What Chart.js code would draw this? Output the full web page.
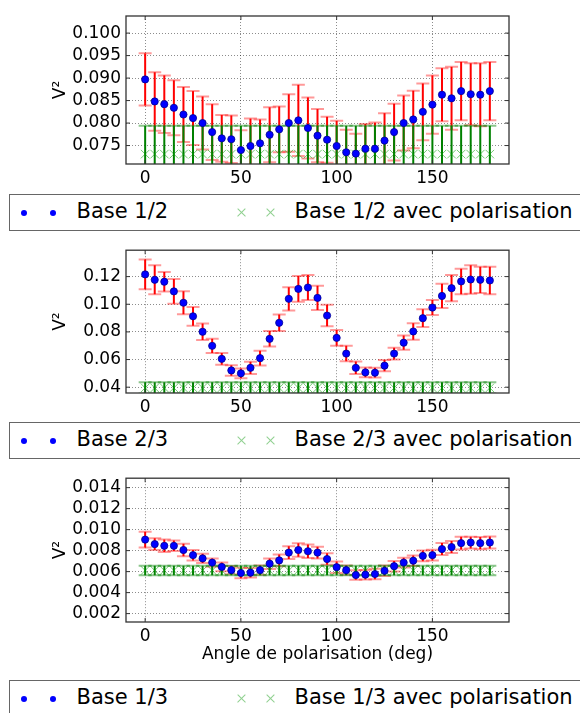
<!DOCTYPE html>
<html>
<head>
<meta charset="utf-8">
<script src="https://cdn.jsdelivr.net/npm/chart.js@4.4.1/dist/chart.umd.min.js"></script>
<style>
  body { margin: 0; background: #fff; width: 580px; height: 713px; overflow: hidden; position: relative; font-family: "DejaVu Sans"; }
  canvas { position: absolute; left: 0; }
  .legend { position: absolute; left: 9px; width: 620px; height: 37px; border: 1.5px solid #666; box-sizing: border-box; background: #fff; }
  .legend .dot { position: absolute; width: 6px; height: 6px; border-radius: 50%; background: #0000ff; }
  .legend .cross { position: absolute; width: 11px; height: 1.2px; background: #8fd08f; }
  .legend .lbl { position: absolute; font-size: 21px; line-height: 21px; color: #000; white-space: nowrap; }
</style>
</head>
<body>
<canvas id="p12" width="580" height="190" style="top:0px"></canvas>
<canvas id="p23" width="580" height="185" style="top:235px"></canvas>
<canvas id="p13" width="580" height="210" style="top:463px"></canvas>
<div id="legends"></div>
<script>
// polarisation angles (deg)
const angles = [0, 5, 10, 15, 20, 25, 30, 35, 40, 45, 50, 55, 60, 65, 70, 75, 80, 85, 90,
  95, 100, 105, 110, 115, 120, 125, 130, 135, 140, 145, 150, 155, 160, 165, 170, 175, 180];
const xTicks = [0, 50, 100, 150];

// Base 1/2
const v12 = [0.0897, 0.0848, 0.0842, 0.0834, 0.0819, 0.0811, 0.0800, 0.0780, 0.0766, 0.0764,
  0.0740, 0.0749, 0.0755, 0.0774, 0.0786, 0.0800, 0.0806, 0.0789, 0.0772, 0.0763, 0.0749,
  0.0735, 0.0732, 0.0743, 0.0743, 0.0761, 0.0780, 0.0800, 0.0808, 0.0825, 0.0841, 0.0863,
  0.0855, 0.0871, 0.0864, 0.0863, 0.0871];
const e12 = [0.0058, 0.0065, 0.0064, 0.0061, 0.0061, 0.0060, 0.0059, 0.0062, 0.0052, 0.0053,
  0.0044, 0.0061, 0.0053, 0.0061, 0.0051, 0.0064, 0.0079, 0.0068, 0.0059, 0.0051, 0.0056,
  0.0050, 0.0044, 0.0055, 0.0058, 0.0061, 0.0063, 0.0061, 0.0064, 0.0063, 0.0065, 0.0059,
  0.0070, 0.0065, 0.0069, 0.0070, 0.0065];
const g12 = [0.0731, 0.0731, 0.0731, 0.0731, 0.0731, 0.0731, 0.0731, 0.0731, 0.0731, 0.0731,
  0.0731, 0.0731, 0.0731, 0.0731, 0.0731, 0.0731, 0.0731, 0.0731, 0.0731, 0.0731, 0.0731,
  0.0731, 0.0731, 0.0731, 0.0731, 0.0731, 0.0731, 0.0731, 0.0731, 0.0731, 0.0731, 0.0731,
  0.0731, 0.0731, 0.0731, 0.0731, 0.0731];
const ge12 = [0.0063, 0.0063, 0.0063, 0.0063, 0.0063, 0.0063, 0.0063, 0.0063, 0.0063, 0.0063,
  0.0063, 0.0063, 0.0063, 0.0063, 0.0063, 0.0063, 0.0063, 0.0063, 0.0063, 0.0063, 0.0063,
  0.0063, 0.0063, 0.0063, 0.0063, 0.0063, 0.0063, 0.0063, 0.0063, 0.0063, 0.0063, 0.0063,
  0.0063, 0.0063, 0.0063, 0.0063, 0.0063];
const yTicks12 = [0.075, 0.080, 0.085, 0.090, 0.095, 0.100];

// Base 2/3
const v23 = [0.1216, 0.1177, 0.1163, 0.1093, 0.1011, 0.0913, 0.0801, 0.0699, 0.0605, 0.0521,
  0.0500, 0.0540, 0.0610, 0.0750, 0.0866, 0.1039, 0.1111, 0.1121, 0.1046, 0.0918, 0.0757,
  0.0643, 0.0540, 0.0507, 0.0505, 0.0556, 0.0643, 0.0722, 0.0803, 0.0899, 0.0976, 0.1060,
  0.1116, 0.1165, 0.1179, 0.1177, 0.1172];
const e23 = [0.0108, 0.0105, 0.0070, 0.0090, 0.0083, 0.0068, 0.0060, 0.0052, 0.0042, 0.0038,
  0.0036, 0.0044, 0.0053, 0.0056, 0.0060, 0.0084, 0.0093, 0.0090, 0.0087, 0.0078, 0.0057,
  0.0056, 0.0045, 0.0035, 0.0035, 0.0040, 0.0042, 0.0052, 0.0060, 0.0064, 0.0054, 0.0088,
  0.0095, 0.0092, 0.0103, 0.0095, 0.0100];
const g23 = [0.0395, 0.0395, 0.0395, 0.0395, 0.0395, 0.0395, 0.0395, 0.0395, 0.0395, 0.0395,
  0.0395, 0.0395, 0.0395, 0.0395, 0.0395, 0.0395, 0.0395, 0.0395, 0.0395, 0.0395, 0.0395,
  0.0395, 0.0395, 0.0395, 0.0395, 0.0395, 0.0395, 0.0395, 0.0395, 0.0395, 0.0395, 0.0395,
  0.0395, 0.0395, 0.0395, 0.0395, 0.0395];
const ge23 = [0.0040, 0.0040, 0.0040, 0.0040, 0.0040, 0.0040, 0.0040, 0.0040, 0.0040, 0.0040,
  0.0040, 0.0040, 0.0040, 0.0040, 0.0040, 0.0040, 0.0040, 0.0040, 0.0040, 0.0040, 0.0040,
  0.0040, 0.0040, 0.0040, 0.0040, 0.0040, 0.0040, 0.0040, 0.0040, 0.0040, 0.0040, 0.0040,
  0.0040, 0.0040, 0.0040, 0.0040, 0.0040];
const yTicks23 = [0.04, 0.06, 0.08, 0.10, 0.12];

// Base 1/3
const v13 = [0.00905, 0.00862, 0.00846, 0.00846, 0.00806, 0.00757, 0.00726, 0.00686, 0.00645,
  0.00614, 0.00587, 0.00590, 0.00614, 0.00676, 0.00707, 0.00781, 0.00806, 0.00794, 0.00781,
  0.00720, 0.00642, 0.00614, 0.00568, 0.00571, 0.00577, 0.00608, 0.00652, 0.00686, 0.00704,
  0.00750, 0.00757, 0.00815, 0.00834, 0.00871, 0.00877, 0.00871, 0.00877];
const e13 = [0.00075, 0.00057, 0.00060, 0.00050, 0.00060, 0.00050, 0.00045, 0.00040, 0.00042,
  0.00040, 0.00050, 0.00045, 0.00045, 0.00050, 0.00055, 0.00060, 0.00065, 0.00065, 0.00055,
  0.00055, 0.00055, 0.00045, 0.00045, 0.00045, 0.00050, 0.00050, 0.00050, 0.00047, 0.00050,
  0.00052, 0.00052, 0.00057, 0.00057, 0.00060, 0.00056, 0.00058, 0.00057];
const g13 = [0.00611, 0.00611, 0.00611, 0.00611, 0.00611, 0.00611, 0.00611, 0.00611, 0.00611,
  0.00611, 0.00611, 0.00611, 0.00611, 0.00611, 0.00611, 0.00611, 0.00611, 0.00611, 0.00611,
  0.00611, 0.00611, 0.00611, 0.00611, 0.00611, 0.00611, 0.00611, 0.00611, 0.00611, 0.00611,
  0.00611, 0.00611, 0.00611, 0.00611, 0.00611, 0.00611, 0.00611, 0.00611];
const ge13 = [0.00046, 0.00046, 0.00046, 0.00046, 0.00046, 0.00046, 0.00046, 0.00046, 0.00046,
  0.00046, 0.00046, 0.00046, 0.00046, 0.00046, 0.00046, 0.00046, 0.00046, 0.00046, 0.00046,
  0.00046, 0.00046, 0.00046, 0.00046, 0.00046, 0.00046, 0.00046, 0.00046, 0.00046, 0.00046,
  0.00046, 0.00046, 0.00046, 0.00046, 0.00046, 0.00046, 0.00046, 0.00046];
const yTicks13 = [0.002, 0.004, 0.006, 0.008, 0.010, 0.012, 0.014];

Chart.defaults.font.family = 'DejaVu Sans';
Chart.defaults.font.size = 17;
Chart.defaults.color = '#000';

// vertical error bars with caps, drawn under the markers
const errorBars = {
  id: 'errorBars',
  beforeDatasetsDraw(chart) {
    const { ctx, chartArea: a, scales: { x, y } } = chart;
    ctx.save();
    ctx.beginPath();
    ctx.rect(a.left, a.top, a.right - a.left, a.bottom - a.top);
    ctx.clip();
    chart.data.datasets.forEach((ds) => {
      ds.data.forEach((p, i) => {
        const px = x.getPixelForValue(p.x);
        const top = y.getPixelForValue(p.y + ds.errors[i]);
        const bot = y.getPixelForValue(p.y - ds.errors[i]);
        ctx.lineWidth = 2;
        ctx.strokeStyle = ds.errColor;
        ctx.beginPath();
        ctx.moveTo(px, top);
        ctx.lineTo(px, bot);
        ctx.stroke();
        ctx.strokeStyle = ds.capColor;
        ctx.beginPath();
        ctx.moveTo(px - 6.5, top);
        ctx.lineTo(px + 6.5, top);
        ctx.moveTo(px - 6.5, bot);
        ctx.lineTo(px + 6.5, bot);
        ctx.stroke();
      });
    });
    ctx.restore();
  }
};

// full box around the plot with inward ticks, matplotlib style
const frame = {
  id: 'frame',
  afterDatasetsDraw(chart) {
    const { ctx, chartArea: a, scales: { x, y } } = chart;
    ctx.save();
    ctx.strokeStyle = '#333';
    ctx.lineWidth = 1.3;
    ctx.strokeRect(a.left, a.top, a.right - a.left, a.bottom - a.top);
    ctx.lineWidth = 1;
    ctx.beginPath();
    x.ticks.forEach((t) => {
      const px = x.getPixelForValue(t.value);
      ctx.moveTo(px, a.bottom); ctx.lineTo(px, a.bottom - 4);
      ctx.moveTo(px, a.top); ctx.lineTo(px, a.top + 4);
    });
    y.ticks.forEach((t) => {
      const py = y.getPixelForValue(t.value);
      ctx.moveTo(a.left, py); ctx.lineTo(a.left + 4, py);
      ctx.moveTo(a.right, py); ctx.lineTo(a.right - 4, py);
    });
    ctx.stroke();
    ctx.restore();
  }
};

function panel(id, o) {
  const pts = (vals) => angles.map((a, i) => ({ x: a, y: vals[i] }));
  new Chart(document.getElementById(id), {
    type: 'scatter',
    data: {
      datasets: [
        {
          label: o.label,
          data: pts(o.v),
          errors: o.e,
          errColor: '#ff0000',
          capColor: 'rgba(255, 0, 0, 0.4)',
          pointStyle: 'circle',
          radius: 3.6,
          backgroundColor: '#0000ff',
          borderColor: '#000090',
          borderWidth: 0.8
        },
        {
          label: o.label + ' avec polarisation',
          data: pts(o.g),
          errors: o.ge,
          errColor: '#008000',
          capColor: 'rgba(0, 128, 0, 0.45)',
          pointStyle: 'crossRot',
          radius: 6,
          borderColor: 'rgba(0, 160, 0, 0.55)',
          borderWidth: 1
        }
      ]
    },
    options: {
      responsive: false,
      animation: false,
      events: [],
      layout: { padding: { top: o.padTop, left: 0, right: 71, bottom: 0 } },
      plugins: { legend: { display: false }, tooltip: { enabled: false } },
      scales: {
        x: {
          type: 'linear',
          min: -10,
          max: 190,
          afterBuildTicks: (s) => { s.ticks = xTicks.map((v) => ({ value: v })); },
          afterFit: (s) => { s.height = o.xh; },
          grid: { color: 'rgba(0, 0, 0, 0.45)', drawTicks: false },
          border: { display: false, dash: [1, 2] },
          ticks: { padding: 4, callback: (v) => String(v) },
          title: {
            display: !!o.xTitle,
            text: o.xTitle || '',
            font: { size: 17 },
            padding: { top: 0, bottom: 8 }
          }
        },
        y: {
          min: o.ymin,
          max: o.ymax,
          afterBuildTicks: (s) => { s.ticks = o.yTicks.map((v) => ({ value: v })); },
          afterFit: (s) => { s.width = 126; },
          grid: { color: 'rgba(0, 0, 0, 0.45)', drawTicks: false },
          border: { display: false, dash: [1, 2] },
          ticks: { padding: 5, callback: (v) => v.toFixed(o.dec) },
          title: { display: true, text: 'V²', font: { size: 17 }, padding: { top: 50, bottom: 0 } }
        }
      }
    },
    plugins: [errorBars, frame]
  });
}

panel('p12', { label: 'Base 1/2', v: v12, e: e12, g: g12, ge: ge12, yTicks: yTicks12,
  ymin: 0.0709, ymax: 0.1038, dec: 3, padTop: 16, xh: 26 });
panel('p23', { label: 'Base 2/3', v: v23, e: e23, g: g23, ge: ge23, yTicks: yTicks23,
  ymin: 0.0358, ymax: 0.1391, dec: 2, padTop: 11, xh: 27 });
panel('p13', { label: 'Base 1/3', v: v13, e: e13, g: g13, ge: ge13, yTicks: yTicks13,
  ymin: 0.0012, ymax: 0.0149, dec: 3, padTop: 11, xh: 51, xTitle: 'Angle de polarisation (deg)' });

// legend boxes under each panel
const legendTops = [194, 422, 680];
const legendNames = ['Base 1/2', 'Base 2/3', 'Base 1/3'];
const holder = document.getElementById('legends');
legendNames.forEach((name, k) => {
  const box = document.createElement('div');
  box.className = 'legend';
  box.style.top = legendTops[k] + 'px';
  let html = '';
  [13.5, 42.5].forEach((cx) => {
    html += `<div class="dot" style="left:${cx - 3}px;top:${14.5}px"></div>`;
  });
  [231.5, 260.5].forEach((cx) => {
    html += `<div class="cross" style="left:${cx - 5.5}px;top:${17}px;transform:rotate(45deg)"></div>`;
    html += `<div class="cross" style="left:${cx - 5.5}px;top:${17}px;transform:rotate(-45deg)"></div>`;
  });
  html += `<div class="lbl" style="left:66.5px;top:6px">${name}</div>`;
  html += `<div class="lbl" style="left:284.5px;top:6px">${name} avec polarisation</div>`;
  box.innerHTML = html;
  holder.appendChild(box);
});
</script>
</body>
</html>
